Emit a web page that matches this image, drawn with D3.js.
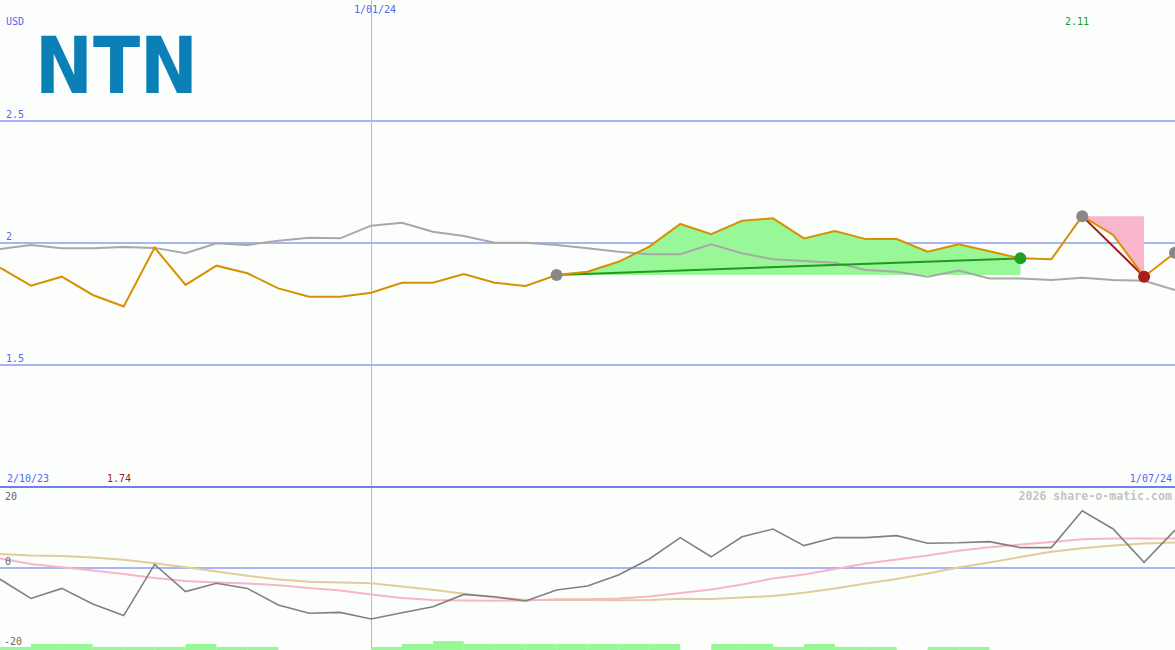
<!DOCTYPE html>
<html>
<head>
<meta charset="utf-8">
<script src="https://cdn.jsdelivr.net/npm/d3@7/dist/d3.min.js"></script>
<style>
  html, body { margin: 0; padding: 0; background: #fcfefc; }
  svg { display: block; }
  text { font-family: "DejaVu Sans Mono", monospace; }
</style>
</head>
<body>
<svg id="chart" width="1175" height="650"></svg>
<script>
// ---------- DATA ----------
const dates = ["2023-10-09","2023-10-16","2023-10-23","2023-10-30","2023-11-06","2023-11-13","2023-11-20","2023-11-27",
  "2023-12-04","2023-12-11","2023-12-18","2023-12-25","2024-01-01","2024-01-08","2024-01-15","2024-01-22","2024-01-29",
  "2024-02-05","2024-02-12","2024-02-19","2024-02-26","2024-03-04","2024-03-11","2024-03-18","2024-03-25","2024-04-01",
  "2024-04-08","2024-04-15","2024-04-22","2024-04-29","2024-05-06","2024-05-13","2024-05-20","2024-05-27","2024-06-03",
  "2024-06-10","2024-06-17","2024-06-24","2024-07-01"];

const price = [1.899,1.825,1.862,1.787,1.740,1.981,1.828,1.907,1.876,1.814,1.780,1.780,1.796,1.837,1.837,1.873,1.837,
  1.824,1.869,1.882,1.923,1.985,2.078,2.036,2.091,2.101,2.019,2.049,2.016,2.016,1.964,1.995,1.966,1.937,1.933,2.110,
  2.033,1.862,1.960];

const movingAvg = [1.975,1.992,1.978,1.978,1.984,1.980,1.958,1.999,1.992,2.009,2.022,2.019,2.071,2.083,2.046,2.029,
  2.001,2.001,1.992,1.978,1.964,1.954,1.954,1.995,1.958,1.933,1.926,1.919,1.889,1.882,1.862,1.887,1.855,1.855,1.848,
  1.858,1.848,1.845,1.807];

const momentum = [-2.8,-7.6,-5.1,-9.0,-11.9,0.9,-5.9,-3.8,-5.1,-9.25,-11.3,-11.1,-12.75,-11.2,-9.7,-6.6,-7.2,-8.25,
  -5.5,-4.5,-1.75,2.25,7.6,2.8,7.8,9.75,5.6,7.6,7.6,8.1,6.2,6.3,6.6,5.1,5.1,14.3,9.75,1.4,9.5];

const fastSignal = [2.4,1.0,0.2,-0.6,-1.5,-2.5,-3.25,-3.6,-3.85,-4.3,-5.0,-5.6,-6.65,-7.5,-8.0,-8.1,-8.2,-8.1,-7.8,
  -7.8,-7.6,-7.1,-6.25,-5.4,-4.1,-2.6,-1.6,-0.25,1.1,2.1,3.1,4.3,5.2,5.85,6.5,7.2,7.4,7.4,7.4];

const slowSignal = [3.5,3.1,3.0,2.65,2.05,1.2,0.2,-0.9,-1.95,-2.9,-3.45,-3.65,-3.8,-4.6,-5.45,-6.45,-7.4,-7.95,-8.0,
  -8.0,-8.05,-8.0,-7.7,-7.75,-7.4,-7.0,-6.2,-5.1,-3.9,-2.75,-1.4,0.1,1.4,2.75,4.05,4.95,5.6,6.1,6.4];

const volume = [1,2,2,1,1,1,2,1,1,0,0,0,1,2,3,2,2,2,2,2,2,2,0,2,2,1,2,1,1,0,1,1,0,0,0,0,0,0,0];

// trades: [entry index, exit index, kind]
const trades = [
  { from: 18, to: 33, kind: "win" },
  { from: 35, to: 37, kind: "loss" }
];
const openSignal = 38;

const priceTicks = [2.5, 2, 1.5];
const oscTicks = [20, 0, -20];
const markerDate = "2024-01-01";
const labels = {
  unit: "USD", top: "1/01/24", maxLabel: "2.11", minLabel: "1.74",
  start: "2/10/23", end: "1/07/24", credit: "2026 share-o-matic.com", logo: "NTN"
};

// ---------- SETUP ----------
const W = 1175, H = 650;
const parse = d3.utcParse("%Y-%m-%d");
const dd = dates.map(parse);
const svg = d3.select("#chart");

const x = d3.scaleUtc().domain([dd[0], dd[dd.length - 1]]).range([0, W]);
const y = d3.scaleLinear().domain([1, 3]).range([487, -1]);
const yb = d3.scaleLinear().domain([-20, 20]).range([648, 488]);
const yv = d3.scaleLinear().domain([0, 10]).range([650, 620]);

const gridCol = "#a8b4f6";
const blueText = "#5566ee";

// logo
svg.append("text")
  .attr("x", 35).attr("y", 93)
  .attr("textLength", 163).attr("lengthAdjust", "spacingAndGlyphs")
  .style("font-family", "'DejaVu Sans', sans-serif")
  .style("font-weight", "bold").style("font-size", "78px")
  .attr("fill", "#0a80b6")
  .text(labels.logo);

// horizontal gridlines main
svg.selectAll(".hgrid").data(priceTicks).join("line")
  .attr("x1", 0).attr("x2", W)
  .attr("y1", d => y(d)).attr("y2", d => y(d))
  .attr("stroke", gridCol).attr("stroke-width", 2);

// vertical marker line
svg.append("line")
  .attr("x1", Math.round(x(parse(markerDate))) + 0.5).attr("x2", Math.round(x(parse(markerDate))) + 0.5)
  .attr("y1", 0).attr("y2", H)
  .attr("stroke", gridCol).attr("stroke-width", 1);

// bottom zero line
svg.append("line")
  .attr("x1", 0).attr("x2", W).attr("y1", yb(0)).attr("y2", yb(0))
  .attr("stroke", gridCol).attr("stroke-width", 2);

// panel separator
svg.append("line")
  .attr("x1", 0).attr("x2", W).attr("y1", 487).attr("y2", 487)
  .attr("stroke", "#6f80ee").attr("stroke-width", 2);

// trade fills
trades.forEach(t => {
  const idx = d3.range(t.from, t.to + 1);
  const base = price[t.from];
  const area = d3.area()
    .x(i => x(dd[i]))
    .y0(() => y(base))
    .y1(i => y(price[i]));
  svg.append("path").datum(idx)
    .attr("d", area)
    .attr("fill", t.kind === "win" ? "#98f898" : "#f9b6cb");
});

// volume bars
const step = x(dd[1]) - x(dd[0]);
svg.selectAll(".vol").data(volume.map((v, i) => ({ v, i })).filter(d => d.v > 0)).join("rect")
  .attr("x", d => x(dd[d.i]))
  .attr("width", step)
  .attr("y", d => yv(d.v))
  .attr("height", d => yv(0) - yv(d.v))
  .attr("fill", "#98f898");

// lines
const line = (arr, ys) => d3.line().x((d, i) => x(dd[i])).y(d => ys(d))(arr);

svg.append("path").attr("d", line(slowSignal, yb))
  .attr("fill", "none").attr("stroke", "#e2cc9c").attr("stroke-width", 2);
svg.append("path").attr("d", line(fastSignal, yb))
  .attr("fill", "none").attr("stroke", "#f8b4c8").attr("stroke-width", 2);
svg.append("path").attr("d", line(momentum, yb))
  .attr("fill", "none").attr("stroke", "#808080").attr("stroke-width", 1.6);

svg.append("path").attr("d", line(movingAvg, y))
  .attr("fill", "none").attr("stroke", "#a8a8a8").attr("stroke-width", 2);

// trade connecting lines
trades.forEach(t => {
  svg.append("line")
    .attr("x1", x(dd[t.from])).attr("y1", y(price[t.from]))
    .attr("x2", x(dd[t.to])).attr("y2", y(price[t.to]))
    .attr("stroke", t.kind === "win" ? "#229922" : "#9c1a1a").attr("stroke-width", 2);
});

svg.append("path").attr("d", line(price, y))
  .attr("fill", "none").attr("stroke", "#d89000").attr("stroke-width", 2);

// markers
const markers = [];
trades.forEach(t => {
  markers.push({ i: t.from, c: "#888888" });
  markers.push({ i: t.to, c: t.kind === "win" ? "#22a022" : "#a81e1e" });
});
markers.push({ i: openSignal, c: "#888888" });
svg.selectAll(".mk").data(markers).join("circle")
  .attr("cx", d => x(dd[d.i])).attr("cy", d => y(price[d.i]))
  .attr("r", 6).attr("fill", d => d.c);

// texts
const txt = (s, xx, yy, col, opts = {}) => svg.append("text")
  .attr("x", xx).attr("y", yy).attr("fill", col)
  .attr("text-anchor", opts.anchor || "start")
  .style("font-size", (opts.size || 10) + "px")
  .style("font-weight", opts.bold ? "bold" : "normal")
  .text(s);

txt(labels.unit, 6, 25, blueText);
txt(labels.top, 354, 13, blueText);
txt(labels.maxLabel, 1065, 25, "#229922");
priceTicks.forEach(v => txt(String(v), 6, y(v) - 3, blueText));
txt(labels.start, 7, 482, blueText);
txt(labels.minLabel, 107, 482, "#a01818");
txt(labels.end, 1172, 482, blueText, { anchor: "end" });
txt(labels.credit, 1172, 500, "#c4c4c4", { anchor: "end", size: 11.6, bold: true });
txt(String(oscTicks[0]), 5, 500, "#666666");
txt(String(oscTicks[1]), 5, 565, "#666666");
txt(String(oscTicks[2]), 4, 645, "#666666");
</script>
</body>
</html>
